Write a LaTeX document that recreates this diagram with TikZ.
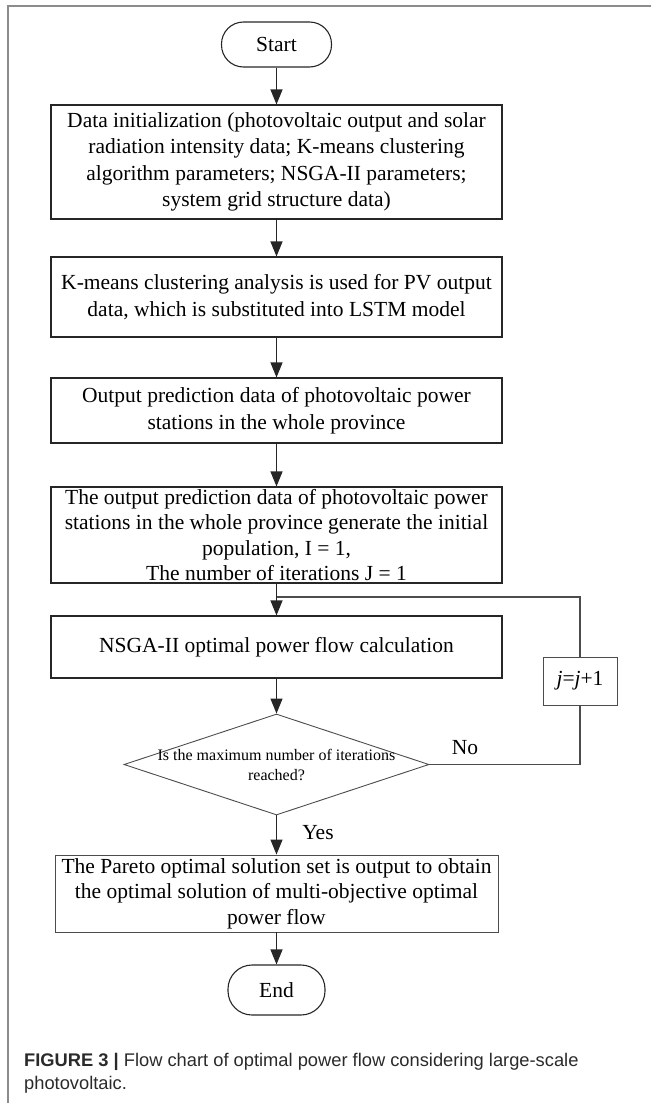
\documentclass[tikz,border=0pt]{standalone}
\usepackage{fontspec}
\setmainfont{Liberation Serif}
\newfontfamily\capfont{Liberation Sans}
\usetikzlibrary{shapes.geometric,arrows.meta}
\definecolor{framegray}{HTML}{8C8C8C}
\definecolor{capgray}{HTML}{2A2A2A}
\begin{document}
\begin{tikzpicture}[x=1pt,y=-1pt,
  every node/.style={font=\fontsize{21.5}{26.5}\selectfont, text=black},
  procbox/.style={draw=black!85, line width=1.1pt, align=center, inner sep=0pt, minimum width=451pt},
  termbox/.style={draw=black!85, line width=1.1pt, rounded corners=22pt, inner sep=0pt},
  decbox/.style={draw=black!70, line width=0.9pt, shape=diamond, inner sep=0pt, minimum width=305pt, minimum height=101pt},
  smallbox/.style={draw=black!70, line width=0.9pt, inner sep=0pt, minimum width=74pt, minimum height=48pt},
  arr/.style={draw=black!85, line width=1.1pt, -{Triangle[length=15pt,width=12pt]}},
  link/.style={draw=black!70, line width=1.1pt},
  lbl/.style={inner sep=0pt}
]
\useasboundingbox (0,0) rectangle (651,1103);
\draw[framegray, line width=1.4pt] (8,1103) -- (8,6) -- (651,6);

\node[termbox, minimum width=110pt, minimum height=45pt] (start) at (276.5,44.5) {Start};
\node[procbox, minimum height=114pt] (b1) at (276.5,162) {Data initialization (photovoltaic output and solar\\radiation intensity data; K-means clustering\\algorithm parameters; NSGA-II parameters;\\system grid structure data)};
\node[procbox, minimum height=80pt] (b2) at (276.5,297) {K-means clustering analysis is used for PV output\\data, which is substituted into LSTM model};
\node[procbox, minimum height=65pt] (b3) at (276.5,410.5) {Output prediction data of photovoltaic power\\stations in the whole province};
\node[procbox, minimum height=96pt, font=\fontsize{21.5}{25.5}\selectfont] (b4) at (276.5,535) {The output prediction data of photovoltaic power\\stations in the whole province generate the initial\\population, I = 1,\\The number of iterations J = 1};
\node[procbox, minimum height=62pt] (b5) at (276.5,647) {NSGA-II optimal power flow calculation};
\node[decbox] (dia) at (276.5,764.5) {};
\node[lbl, align=center, font=\fontsize{16}{20}\selectfont] (diatext) at (276.5,765) {Is the maximum number of iterations\\reached?};
\node[procbox, draw=black!70, line width=0.9pt, minimum width=443pt, minimum height=77pt, font=\fontsize{21.5}{25.5}\selectfont] (b6) at (276.5,893.5) {The Pareto optimal solution set is output to obtain\\the optimal solution of multi-objective optimal\\power flow};
\node[termbox, minimum width=97pt, minimum height=50pt, rounded corners=24pt] (end) at (276.5,990) {End};
\node[smallbox] (jb) at (580,681) {\textit{j}=\textit{j}+1};
\node[lbl] (no) at (465,748) {No};
\node[lbl] (yes) at (318,833) {Yes};
\coordinate (join) at (276.5,597);

\draw[arr] (start) -- (b1);
\draw[arr] (b1) -- (b2);
\draw[arr] (b2) -- (b3);
\draw[arr] (b3) -- (b4);
\draw[arr] (b4) -- (b5);
\draw[arr] (b5) -- (dia);
\draw[arr] (dia) -- (b6);
\draw[arr] (b6) -- (end);
\draw[link] (dia.east) -| (jb.south);
\draw[link] (jb.north) |- (join);

\node[anchor=west, inner sep=0pt, align=left, text=capgray,
  font=\capfont\fontsize{18.3}{23}\selectfont] (cap) at (24,1073.5)
  {\textbf{FIGURE 3 |} Flow chart of optimal power flow considering large-scale\\photovoltaic.};
\end{tikzpicture}
\end{document}
